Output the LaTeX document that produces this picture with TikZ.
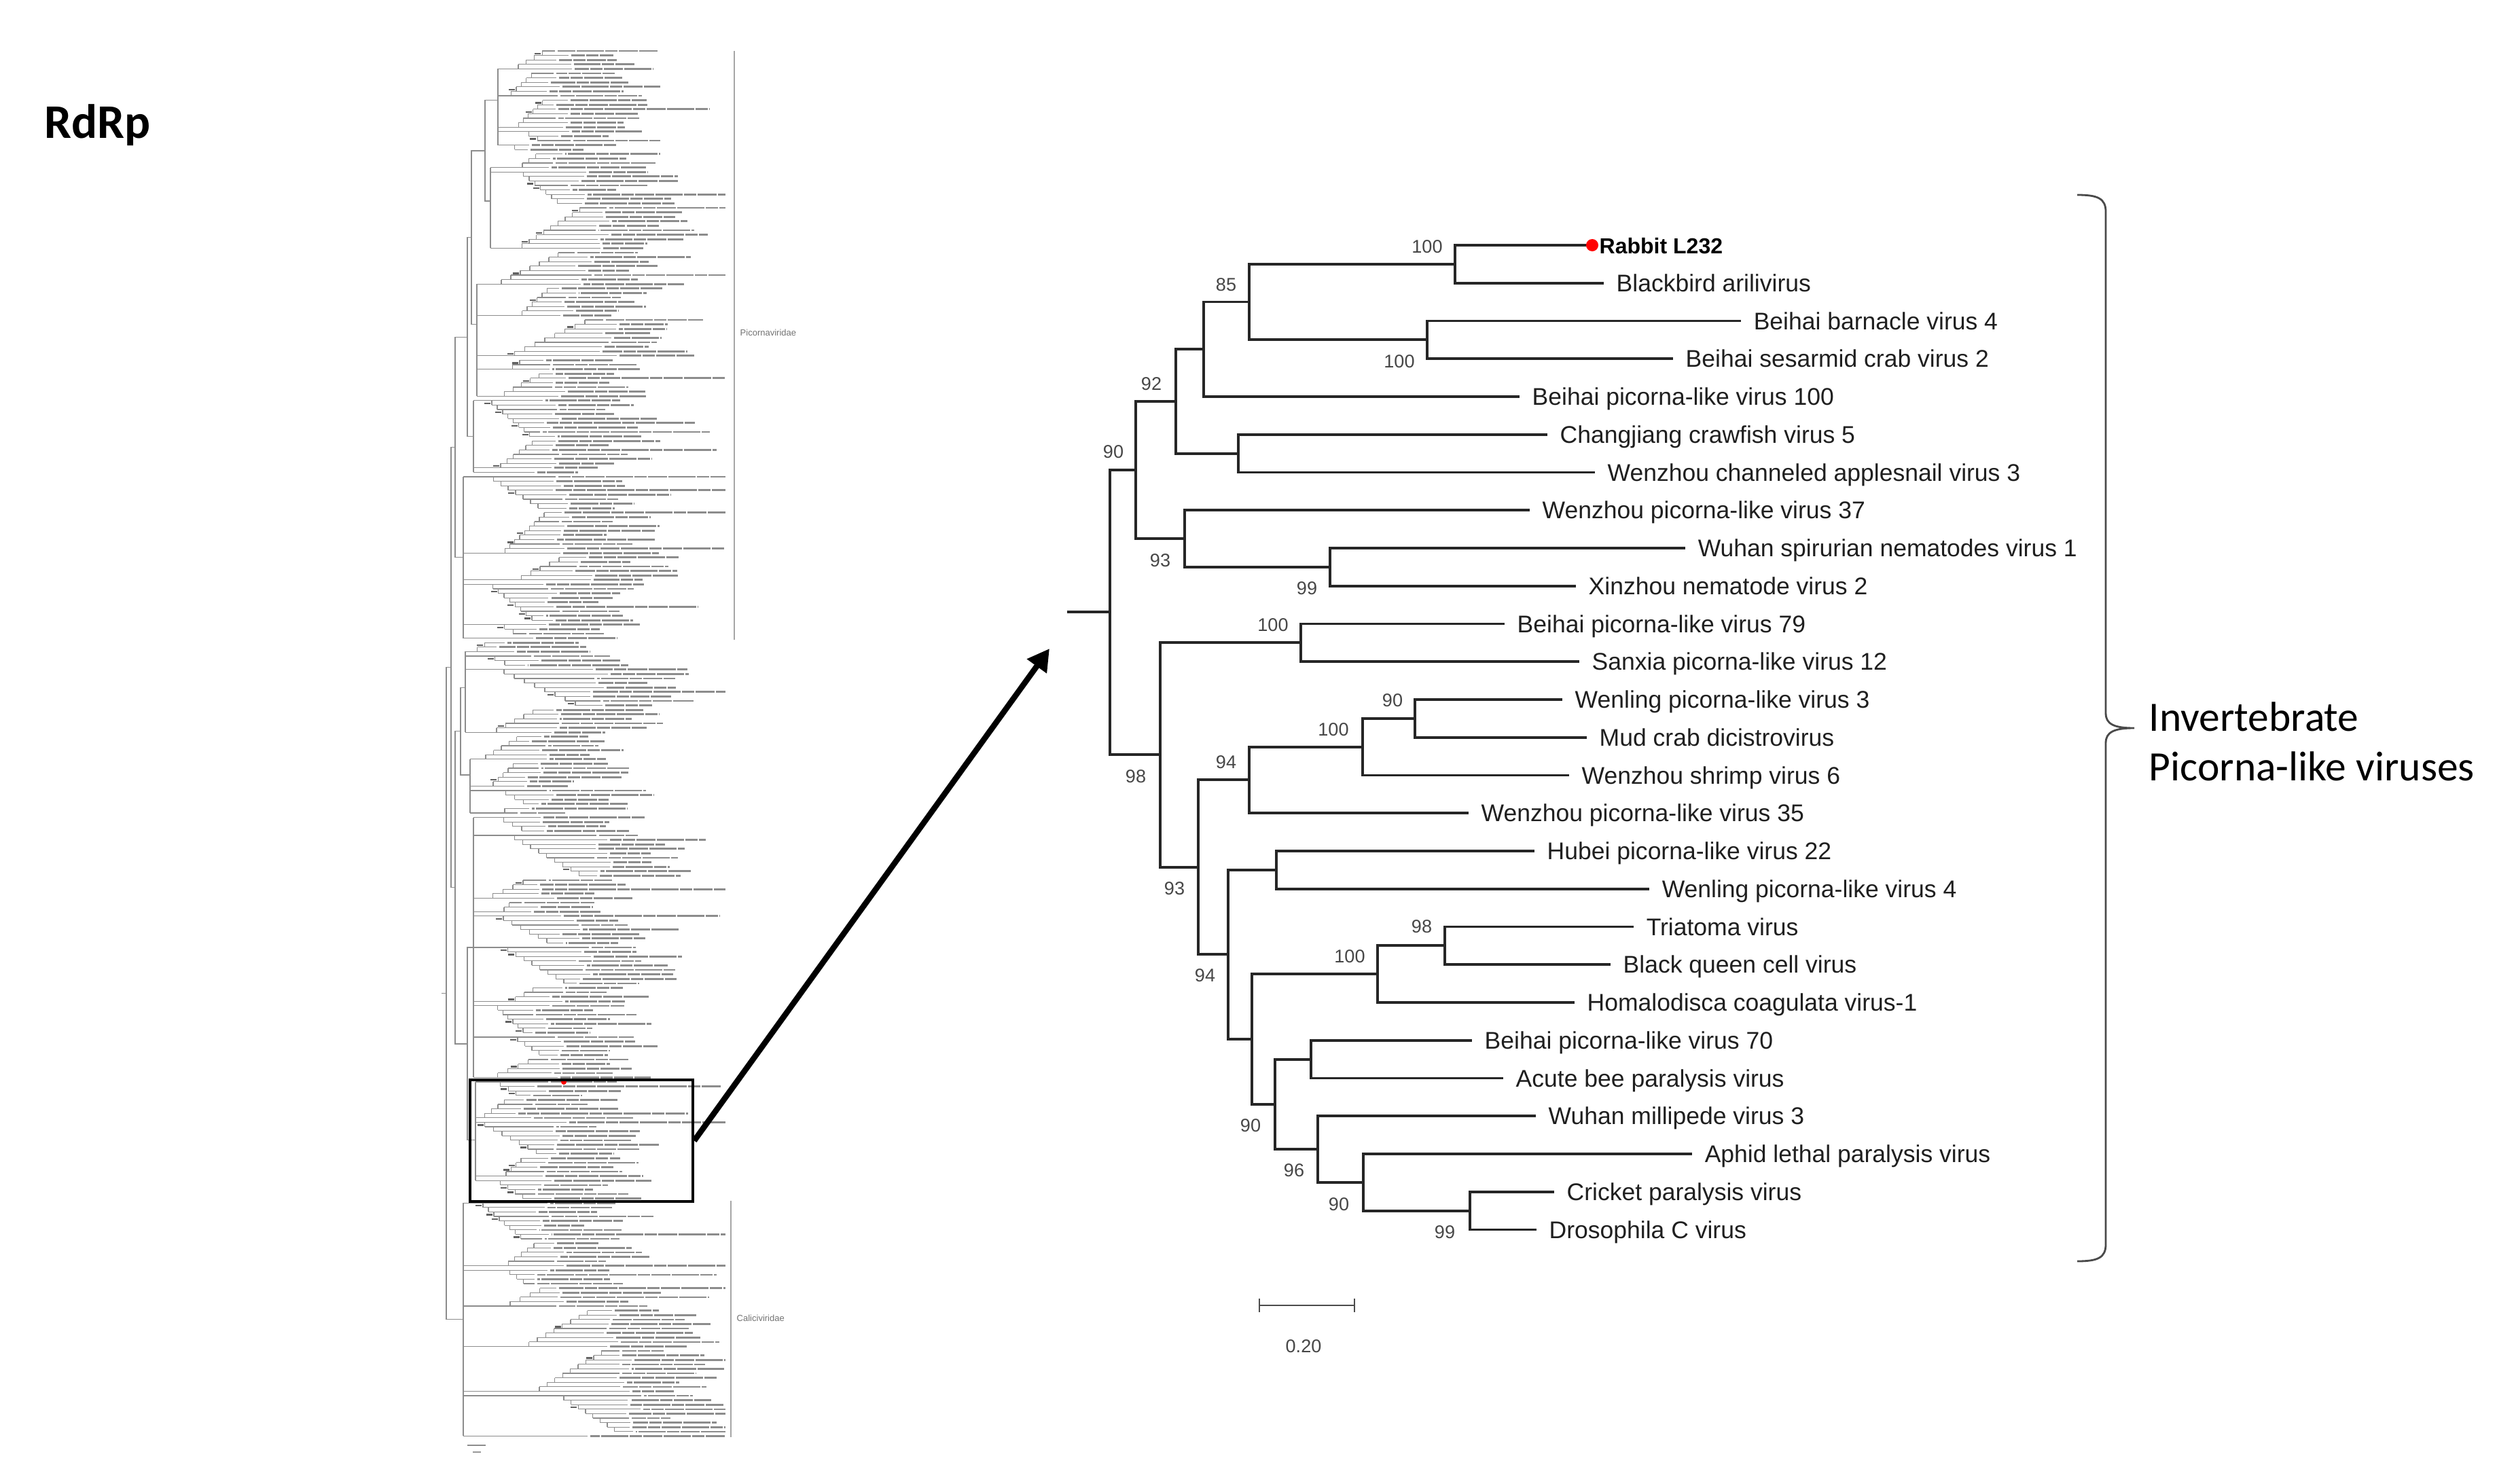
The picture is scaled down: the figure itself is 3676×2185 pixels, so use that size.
\documentclass[tikz,border=0pt]{standalone}
\usepackage{fontspec}
\setmainfont{Liberation Sans}
\newfontfamily\calib{Carlito}
\usetikzlibrary{arrows.meta}
\definecolor{brc}{HTML}{262626}
\definecolor{brk}{HTML}{4A4A4A}
\newcount\lrp \newcount\lrl
\newif\ifnewrun
\gdef\rbase{0}\gdef\rstep{0}\gdef\rdir{1}\gdef\rmax{0}\gdef\gmin{10000}\gdef\gmax{-10000}
\def\setcl#1{%
  \ifnum#1<23 \def\cx{733}\def\cbm{750}\def\cbr{30}\def\ce{22}\def\cs{0}%
  \else\ifnum#1<45 \def\cx{722}\def\cbm{740}\def\cbr{35}\def\ce{44}\def\cs{23}%
  \else\ifnum#1<78 \def\cx{702}\def\cbm{725}\def\cbr{45}\def\ce{77}\def\cs{45}%
  \else\ifnum#1<95 \def\cx{697}\def\cbm{712}\def\cbr{40}\def\ce{94}\def\cs{78}%
  \else\ifnum#1<132 \def\cx{682}\def\cbm{718}\def\cbr{50}\def\ce{131}\def\cs{95}%
  \else\ifnum#1<153 \def\cx{685}\def\cbm{700}\def\cbr{50}\def\ce{152}\def\cs{132}%
  \else\ifnum#1<171 \def\cx{692}\def\cbm{710}\def\cbr{55}\def\ce{170}\def\cs{153}%
  \else\ifnum#1<230 \def\cx{697}\def\cbm{710}\def\cbr{55}\def\ce{229}\def\cs{171}%
  \else\ifnum#1<257 \def\cx{700}\def\cbm{712}\def\cbr{35}\def\ce{256}\def\cs{230}%
  \else \def\cx{682}\def\cbm{(700+(#1-257)*2.2)}\def\cbr{40}\def\ce{309}\def\cs{257}%
  \fi\fi\fi\fi\fi\fi\fi\fi\fi}
\tikzset{
  br/.style={draw=brc, line width=1.05pt},
  leaflab/.style={anchor=base west, inner sep=0pt, font=\fontsize{10.1}{12}\selectfont, text=black!88},
  boot/.style={inner sep=0pt, font=\fontsize{7.7}{9}\selectfont, text=black!72},
  lbr/.style={draw=black!45, line width=0.36pt},
  ltx/.style={draw=black!45, line width=0.75pt, dash pattern=on 0.28cm off 0.02cm on 0.4cm off 0.02cm on 0.18cm off 0.02cm},
  lbs/.style={draw=black!62, line width=0.7pt},
  cladeline/.style={draw=black!35, line width=0.75pt},
  cladelab/.style={inner sep=0pt, anchor=west, font=\fontsize{3.7}{4.5}\selectfont, text=black!55},
  brace/.style={draw=brk, line width=0.8pt},
}
\begin{document}
\begin{tikzpicture}[x=0.01cm, y=-0.01cm, line join=miter]
\fill[white] (0,0) rectangle (3676,2185);
\useasboundingbox (0,0) rectangle (3676,2185);

% ---------- title ----------
\node[anchor=base west, inner sep=0pt, font=\calib\bfseries\fontsize{20.2}{24}\selectfont] (title) at (65,203) {RdRp};

% ---------- left thumbnail tree (illegible overview) ----------
\pgfmathsetseed{12}
\foreach \i in {0,...,309}{%
  \setcl{\i}%
  \pgfmathsetmacro\yy{75+6.6*\i}%
  \ifnum\i=\cs\relax \xdef\gmin{10000}\xdef\gmax{-10000}\fi
  \newrunfalse
  \ifnum\lrp<\lrl\relax\else\newruntrue\fi
  \ifnum\i=\cs\relax\newruntrue\fi
  \ifnewrun
    \pgfmathsetmacro\tmp{int(3+floor(rnd*8))}%
    \pgfmathsetmacro\rem{int(\ce-\i+1)}%
    \ifnum\tmp>\rem\relax \let\tmp\rem \fi
    \global\lrl=\tmp\relax
    \global\lrp=0\relax
    \pgfmathsetmacro\tmpb{\cbm+rnd*\cbr}\xdef\rbase{\tmpb}%
    \pgfmathsetmacro\tmps{7+rnd*8}\xdef\rstep{\tmps}%
    \pgfmathsetmacro\tmpd{rnd<0.5 ? 1 : -1}\xdef\rdir{\tmpd}%
    \pgfmathsetmacro\tmpe{\rbase+(\the\lrl-1)*\rstep+6}\xdef\rmax{\tmpe}%
  \fi
  \pgfmathsetmacro\k{\the\lrp}%
  \pgfmathsetmacro\vk{\rdir>0 ? \rbase+\k*\rstep : \rbase+(\the\lrl-2-\k)*\rstep}%
  \pgfmathsetmacro\isstem{((\rdir>0)&&(\k==0))||((\rdir<0)&&(\k==\the\lrl-1)) ? 1 : 0}%
  \ifdim\isstem pt>0.5pt
    \let\hk\cx
    \pgfmathsetmacro\aa{min(\gmin,\yy)}\xdef\gmin{\aa}%
    \pgfmathsetmacro\bb{max(\gmax,\yy)}\xdef\gmax{\bb}%
  \else
    \pgfmathsetmacro\hk{\rdir>0 ? \rbase+(\k-1)*\rstep : \vk}%
  \fi
  \pgfmathsetmacro\ek{\rmax+rnd*30}%
  \pgfmathsetmacro\tl{55+rnd*95+(rnd>0.9 ? 150 : 0)}%
  \pgfmathsetmacro\te{min(\ek+4+\tl,1068)}%
  \pgfmathsetmacro\ph{rnd*0.6}%
  \draw[lbr] (\hk,\yy) -- (\ek,\yy);
  \draw[ltx, dash phase=\ph cm] ({\ek+4},\yy) -- (\te,\yy);
  \ifnum\lrp<\numexpr\lrl-1\relax
    \draw[lbr] (\vk,\yy) -- (\vk,{\yy+6.6});
    \pgfmathsetmacro\mk{rnd}%
    \ifdim\mk pt<0.3pt \draw[lbs] ({\vk-11},{\yy+4}) -- ({\vk-2},{\yy+4}); \fi
  \fi
  \ifnum\i=\ce\relax
    \pgfmathsetmacro\md{75+6.6*(\cs+\ce)/2}%
    \pgfmathsetmacro\lo{min(\gmin,\md)}%
    \pgfmathsetmacro\hi{max(\gmax,\md)}%
    \draw[lbr] (\cx,\lo) -- (\cx,\hi);
  \fi
  \global\advance\lrp by 1
}
% backbone of the thumbnail tree
\coordinate (c1) at (733,147.6);
\coordinate (c2) at (722,296.1);
\coordinate (c3) at (702,477.6);
\coordinate (c4) at (697,642.6);
\coordinate (c5) at (682,820.8);
\coordinate (c6) at (685,1012.2);
\coordinate (c7) at (692,1140.9);
\coordinate (c8) at (697,1395);
\coordinate (cb) at (700,1678.8);
\coordinate (ca) at (682,1942.8);
\coordinate (p12) at (714,221.9);
\coordinate (p123) at (694,349.8);
\coordinate (p1234) at (688,496.2);
\coordinate (pup) at (670,658.5);
\coordinate (p67) at (678,1076.6);
\coordinate (p8b) at (688,1536.9);
\coordinate (p678b) at (670,1306.8);
\coordinate (pmid) at (664,982.7);
\coordinate (proot) at (657,1462.7);
\coordinate (pstem) at (650,1462.7);
\foreach \p/\c in {p12/c1,p12/c2,p123/p12,p123/c3,p1234/p123,p1234/c4,pup/p1234,pup/c5,
  p67/c6,p67/c7,p8b/c8,p8b/cb,p678b/p67,p678b/p8b,pmid/pup,pmid/p678b,proot/pmid,proot/ca}
  \draw[lbr] (\p) |- (\c);
\draw[lbr] (pstem) -- (proot);
% thumbnail scale bar
\coordinate (ls1) at (688,2128);
\coordinate (ls2) at (715,2128);
\draw[lbr] (ls1) -- (ls2);
\draw[draw=black!40, line width=0.6pt] (696,2138) -- (708,2138);
% clade bars
\coordinate (pic1) at (1081,75);
\coordinate (pic2) at (1081,942);
\draw[cladeline] (pic1) -- (pic2);
\node[cladelab] (piclab) at (1089,490) {Picornaviridae};
\coordinate (cal1) at (1076,1768);
\coordinate (cal2) at (1076,2116);
\draw[cladeline] (cal1) -- (cal2);
\node[cladelab] (callab) at (1084,1941) {Caliciviridae};
% highlight box and red mark
\fill[red] (830,1593) circle (0.04cm);
\node[draw=black, line width=1.1pt, minimum width=3.28cm, minimum height=1.79cm, inner sep=0pt] (box) at (856,1679.5) {};
\coordinate (tip) at (1545,955);
\draw[line width=2.4pt, -{Triangle[length=0.32cm,width=0.34cm]}] (box.east) -- (tip);

% ---------- zoomed tree ----------
\coordinate (L0) at (2344,361);
\foreach \i/\x/\t in {1/2361/Blackbird arilivirus,2/2563/Beihai barnacle virus 4,3/2463/Beihai sesarmid crab virus 2,
  4/2237/Beihai picorna-like virus 100,5/2278/Changjiang crawfish virus 5,6/2348/Wenzhou channeled applesnail virus 3,
  7/2252/Wenzhou picorna-like virus 37,8/2481/Wuhan spirurian nematodes virus 1,9/2320/Xinzhou nematode virus 2,
  10/2215/Beihai picorna-like virus 79,11/2325/Sanxia picorna-like virus 12,12/2300/Wenling picorna-like virus 3,
  13/2336/Mud crab dicistrovirus,14/2310/Wenzhou shrimp virus 6,15/2162/Wenzhou picorna-like virus 35,
  16/2259/Hubei picorna-like virus 22,17/2428/Wenling picorna-like virus 4,18/2405/Triatoma virus,
  19/2371/Black queen cell virus,20/2318/Homalodisca coagulata virus-1,21/2167/Beihai picorna-like virus 70,
  22/2213/Acute bee paralysis virus,23/2261/Wuhan millipede virus 3,24/2491/Aphid lethal paralysis virus,
  25/2288/Cricket paralysis virus,26/2262/Drosophila C virus}{
  \coordinate (L\i) at (\x,{361+55.75*\i});
  \node[leaflab, xshift=0.18cm, yshift=-0.125cm] (T\i) at (L\i) {\t};
}
\coordinate (n100a) at (2142,389);
\coordinate (n100b) at (2101,500);
\coordinate (n85) at (1839,444.5);
\coordinate (nb) at (1772,514);
\coordinate (ncj) at (1823,668);
\coordinate (n92) at (1731,591);
\coordinate (n99) at (1958,835);
\coordinate (n93) at (1744,793);
\coordinate (n90) at (1672,692);
\coordinate (nroot) at (1634,901);
\coordinate (rootstart) at (1571,901);
\coordinate (n100c) at (1915,946);
\coordinate (n90b) at (2083,1058);
\coordinate (n100d) at (2006,1100);
\coordinate (n94) at (1839,1148);
\coordinate (nhb) at (1879,1281);
\coordinate (n98b) at (2127,1392);
\coordinate (n100e) at (2028,1434);
\coordinate (nbp) at (1930,1560);
\coordinate (n99b) at (2164,1783);
\coordinate (n90d) at (2007,1741);
\coordinate (n96) at (1940,1692);
\coordinate (n90c) at (1877,1626);
\coordinate (nc) at (1843,1530);
\coordinate (n94b) at (1808,1405);
\coordinate (n93b) at (1764,1277);
\coordinate (n98) at (1708,1111);
\draw[br] (rootstart) -- (nroot);
\foreach \p/\c in {nroot/n90,nroot/n98,n90/n92,n90/n93,n92/nb,n92/ncj,nb/n85,nb/L4,n85/n100a,n85/n100b,
  n100a/L0,n100a/L1,n100b/L2,n100b/L3,ncj/L5,ncj/L6,n93/L7,n93/n99,n99/L8,n99/L9,
  n98/n100c,n98/n93b,n100c/L10,n100c/L11,n93b/n94,n93b/n94b,n94/n100d,n94/L15,n100d/n90b,n100d/L14,
  n90b/L12,n90b/L13,n94b/nhb,n94b/nc,nhb/L16,nhb/L17,nc/n100e,nc/n90c,n100e/n98b,n100e/L20,
  n98b/L18,n98b/L19,n90c/nbp,n90c/n96,nbp/L21,nbp/L22,n96/L23,n96/n90d,n90d/L24,n90d/n99b,n99b/L25,n99b/L26}
  \draw[br] (\p) |- (\c);
\fill[red] (L0) circle (0.09cm);
\node[leaflab, xshift=0.10cm, yshift=-0.12cm, text=black, font=\bfseries\fontsize{9.1}{11}\selectfont] (T0) at (L0) {Rabbit L232};
% bootstrap values
\foreach \n/\x/\y/\t in {b1/2101/363/100,b2/1805/419/85,b3/2060/532/100,b4/1695/565/92,b5/1639/665/90,
  b6/1708/825/93,b7/1924/866/99,b8/1874/920/100,b9/1672/1143/98,b10/1805/1122/94,b11/1963/1074/100,
  b12/2050/1031/90,b13/1729/1308/93,b14/2093/1364/98,b15/1987/1408/100,b16/1774/1436/94,b17/1841/1657/90,
  b18/1905/1723/96,b19/1971/1773/90,b20/2127/1814/99}
  \node[boot] (\n) at (\x,\y) {\t};
% scale bar
\coordinate (sb1) at (1854,1922);
\coordinate (sb2) at (1994,1922);
\draw[draw=black!70, line width=0.8pt] (sb1) -- (sb2);
\draw[draw=black!70, line width=0.8pt] ([yshift=0.1cm]sb1) -- ([yshift=-0.1cm]sb1);
\draw[draw=black!70, line width=0.8pt] ([yshift=0.1cm]sb2) -- ([yshift=-0.1cm]sb2);
\node[boot] (sblab) at (1919,1982) {0.20};

% ---------- brace and group label ----------
\coordinate (brtop) at (3058,287);
\coordinate (brtip) at (3142,1072);
\coordinate (brbot) at (3058,1857);
\draw[brace] (brtop) .. controls (3088,287) and (3100,292) .. (3100,312) -- (3100,1050)
  .. controls (3100,1066) and (3112,1072) .. (brtip)
  .. controls (3112,1072) and (3100,1078) .. (3100,1094) -- (3100,1832)
  .. controls (3100,1852) and (3088,1857) .. (brbot);
\node[anchor=base west, inner sep=0pt, font=\calib\fontsize{17.5}{21}\selectfont] (grp1) at (3163,1076) {Invertebrate};
\node[anchor=base west, inner sep=0pt, font=\calib\fontsize{17.5}{21}\selectfont] (grp2) at (3163,1149) {Picorna-like viruses};
\end{tikzpicture}
\end{document}
